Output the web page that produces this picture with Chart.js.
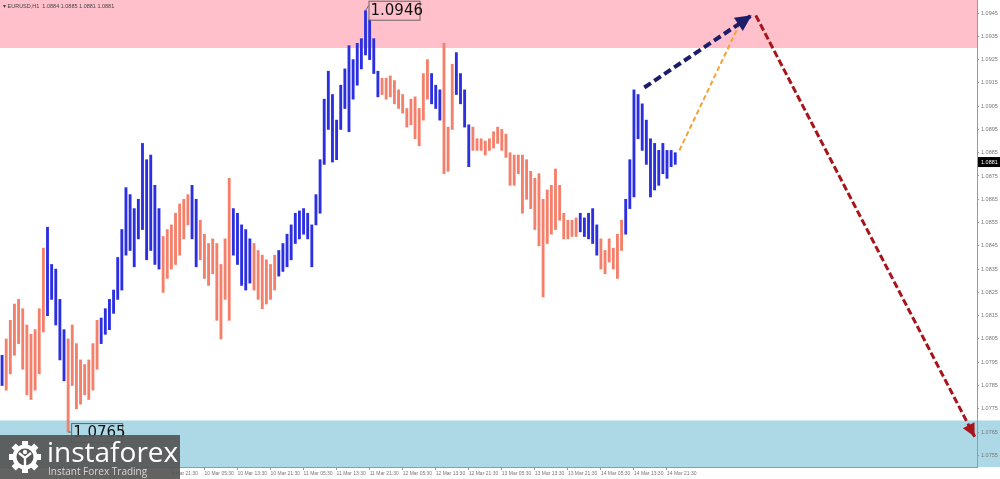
<!DOCTYPE html>
<html>
<head>
<meta charset="utf-8">
<script src="https://cdn.jsdelivr.net/npm/chart.js@4.4.1/dist/chart.umd.min.js"></script>
<style>
  html, body { margin: 0; padding: 0; background: #fff; }
</style>
</head>
<body>
<canvas id="chart" width="1000" height="479"></canvas>
<script>
// EURUSD H1 bars (one per hour)
const highs = [
  1.0798, 1.0805, 1.0813, 1.0820, 1.0822, 1.0818, 1.0811, 1.0807, 1.0809, 1.0818,
  1.0844, 1.0853, 1.0837, 1.0835, 1.0822, 1.0809, 1.0805, 1.0811, 1.0803, 1.0796,
  1.0794, 1.0796, 1.0803, 1.0813, 1.0814, 1.0818, 1.0822, 1.0826, 1.0840, 1.0852,
  1.0870, 1.0867, 1.0861, 1.0865, 1.0889, 1.0882, 1.0884, 1.0871, 1.0861, 1.0849,
  1.0852, 1.0854, 1.0859, 1.0863, 1.0865, 1.0867, 1.0871, 1.0865, 1.0856, 1.0850,
  1.0846, 1.0848, 1.0846, 1.0837, 1.0848, 1.0874, 1.0861, 1.0859, 1.0854, 1.0852,
  1.0848, 1.0846, 1.0843, 1.0841, 1.0839, 1.0837, 1.0841, 1.0843, 1.0846, 1.0850,
  1.0854, 1.0859, 1.0860, 1.0861, 1.0859, 1.0854, 1.0867, 1.0882, 1.0908, 1.0920,
  1.0910, 1.0899, 1.0914, 1.0921, 1.0931, 1.0925, 1.0932, 1.0934, 1.0946, 1.0942,
  1.0934, 1.0920, 1.0917, 1.0917, 1.0918, 1.0916, 1.0912, 1.0910, 1.0904, 1.0908,
  1.0909, 1.0904, 1.0919, 1.0925, 1.0919, 1.0914, 1.0912, 1.0932, 1.0896, 1.0923,
  1.0928, 1.0919, 1.0912, 1.0897, 1.0896, 1.0891, 1.0891, 1.0890, 1.0891, 1.0894,
  1.0896, 1.0895, 1.0893, 1.0885, 1.0884, 1.0884, 1.0884, 1.0882, 1.0877, 1.0874,
  1.0876, 1.0865, 1.0869, 1.0871, 1.0878, 1.0871, 1.0859, 1.0856, 1.0856, 1.0857,
  1.0859, 1.0857, 1.0859, 1.0861, 1.0854, 1.0848, 1.0843, 1.0848, 1.0844, 1.0850,
  1.0856, 1.0865, 1.0882, 1.0912, 1.0910, 1.0906, 1.0899, 1.0891, 1.0889, 1.0886,
  1.0889, 1.0886, 1.0886, 1.0885
];
const lows = [
  1.0785, 1.0783, 1.0790, 1.0798, 1.0803, 1.0792, 1.0781, 1.0779, 1.0783, 1.0790,
  1.0808, 1.0815, 1.0822, 1.0811, 1.0796, 1.0787, 1.0765, 1.0785, 1.0775, 1.0777,
  1.0781, 1.0779, 1.0783, 1.0792, 1.0803, 1.0807, 1.0809, 1.0816, 1.0822, 1.0826,
  1.0841, 1.0843, 1.0836, 1.0848, 1.0852, 1.0839, 1.0843, 1.0837, 1.0835, 1.0825,
  1.0831, 1.0835, 1.0837, 1.0841, 1.0848, 1.0854, 1.0848, 1.0836, 1.0839, 1.0831,
  1.0828, 1.0833, 1.0813, 1.0805, 1.0822, 1.0813, 1.0841, 1.0837, 1.0828, 1.0826,
  1.0829, 1.0826, 1.0822, 1.0818, 1.0820, 1.0822, 1.0826, 1.0832, 1.0834, 1.0836,
  1.0839, 1.0846, 1.0848, 1.0850, 1.0848, 1.0836, 1.0854, 1.0859, 1.0880, 1.0895,
  1.0881, 1.0882, 1.0895, 1.0904, 1.0894, 1.0908, 1.0914, 1.0921, 1.0927, 1.0925,
  1.0919, 1.0909, 1.0910, 1.0908, 1.0909, 1.0906, 1.0904, 1.0902, 1.0896, 1.0897,
  1.0891, 1.0888, 1.0899, 1.0908, 1.0906, 1.0904, 1.0899, 1.0876, 1.0877, 1.0895,
  1.0910, 1.0906, 1.0896, 1.0879, 1.0886, 1.0886, 1.0886, 1.0884, 1.0886, 1.0887,
  1.0889, 1.0886, 1.0883, 1.0871, 1.0871, 1.0876, 1.0859, 1.0865, 1.0861, 1.0852,
  1.0845, 1.0823, 1.0846, 1.0850, 1.0852, 1.0856, 1.0848, 1.0848, 1.0849, 1.0849,
  1.0851, 1.0849, 1.0848, 1.0846, 1.0841, 1.0835, 1.0833, 1.0838, 1.0835, 1.0831,
  1.0843, 1.0850, 1.0861, 1.0866, 1.0891, 1.0886, 1.0880, 1.0866, 1.0869, 1.0871,
  1.0876, 1.0874, 1.0879, 1.0880
];
// wave lengths in bars, alternating: up, down, up, down ...
const waveBars = [1, 10, 5, 8, 15, 7, 2, 8, 5, 6, 25, 12, 3, 3, 4, 26, 5, 6, 13];

const timeLabels = ['9 Mar 21:30', '10 Mar 05:30', '10 Mar 13:30', '10 Mar 21:30', '11 Mar 05:30',
  '11 Mar 13:30', '11 Mar 21:30', '12 Mar 05:30', '12 Mar 13:30', '12 Mar 21:30', '13 Mar 05:30',
  '13 Mar 13:30', '13 Mar 21:30', '14 Mar 05:30', '14 Mar 13:30', '14 Mar 21:30'];
const firstLabelBar = 41;
const labelStep = 8;
const priceTicks = [1.0755, 1.0765, 1.0775, 1.0785, 1.0795, 1.0805, 1.0815, 1.0825, 1.0835, 1.0845,
  1.0855, 1.0865, 1.0875, 1.0885, 1.0895, 1.0905, 1.0915, 1.0925, 1.0935, 1.0945];

const supplyZone = [1.0930, 1.0952];
const demandZone = [1.0750, 1.0770];
const lastPrice = 1.0881;
const extremes = [
  { bar: 88, price: 1.0946, text: '1.0946', up: true },
  { bar: 16, price: 1.0765, text: '1.0765', up: false }
];
// forecast paths (bar, price)
const pathMain = [{ x: 155.5, y: 1.0913 }, { x: 181.5, y: 1.0944 }];
const pathAlt = [{ x: 164, y: 1.0886 }, { x: 178.5, y: 1.0940 }];
const pathDown = [{ x: 182.5, y: 1.0944 }, { x: 235.5, y: 1.0763 }];

const title = 'EURUSD,H1  1.0884 1.0885 1.0881 1.0881';

// colour each bar by its wave
const barColors = [];
waveBars.forEach((n, w) => {
  for (let k = 0; k < n; k++) barColors.push(w % 2 === 0 ? '#2b2fe0' : '#f4806b');
});

const zonesPlugin = {
  id: 'zones',
  beforeDraw(chart) {
    const { ctx, chartArea: a, scales: { y } } = chart;
    ctx.save();
    let t = y.getPixelForValue(supplyZone[1]);
    let b = y.getPixelForValue(supplyZone[0]);
    ctx.fillStyle = '#ffc0cb';
    ctx.fillRect(a.left, Math.max(t, 0), a.right - a.left, b - Math.max(t, 0));
    t = y.getPixelForValue(demandZone[1]);
    b = y.getPixelForValue(demandZone[0]);
    ctx.fillStyle = '#add8e6';
    ctx.fillRect(a.left, t, chart.width - a.left, b - t);
    ctx.restore();
  }
};

const marksPlugin = {
  id: 'marks',
  afterDatasetsDraw(chart) {
    const { ctx, scales: { x, y } } = chart;
    ctx.save();
    // arrow heads
    chart.data.datasets.forEach((ds, i) => {
      if (!ds.head) return;
      const pts = chart.getDatasetMeta(i).data;
      const p1 = pts[pts.length - 2], p2 = pts[pts.length - 1];
      const ang = Math.atan2(p2.y - p1.y, p2.x - p1.x);
      ctx.save();
      ctx.translate(p2.x, p2.y);
      ctx.rotate(ang);
      ctx.beginPath();
      ctx.moveTo(0, 0);
      ctx.lineTo(-ds.head, -ds.head * 0.5);
      ctx.lineTo(-ds.head, ds.head * 0.5);
      ctx.closePath();
      ctx.fillStyle = ds.borderColor;
      ctx.fill();
      ctx.restore();
    });
    // high / low price tags
    ctx.font = '15px "DejaVu Sans"';
    ctx.textBaseline = 'middle';
    extremes.forEach(e => {
      const px = x.getPixelForValue(e.bar);
      const py = y.getPixelForValue(e.price);
      const bx = px + 3, by = e.up ? py - 10 : py - 9;
      ctx.strokeStyle = '#666';
      ctx.lineWidth = 1;
      ctx.beginPath();
      ctx.moveTo(px, py);
      ctx.lineTo(bx, e.up ? py - 5 : py);
      ctx.stroke();
      ctx.strokeRect(bx + 0.5, by + 0.5, 51, 19);
      ctx.fillStyle = '#111';
      ctx.fillText(e.text, bx + 2, by + 10.5);
    });
    ctx.restore();
  },
  afterDraw(chart) {
    const { ctx, chartArea: a, scales: { y } } = chart;
    ctx.save();
    // current price tag on the scale
    const py = y.getPixelForValue(lastPrice);
    ctx.fillStyle = '#000';
    ctx.fillRect(a.right + 1, py - 5, chart.width - a.right - 1, 10);
    ctx.fillStyle = '#fff';
    ctx.font = '5.5px "Liberation Sans"';
    ctx.textBaseline = 'middle';
    ctx.fillText(lastPrice.toFixed(4), a.right + 4, py);
    // symbol line
    ctx.fillStyle = '#444';
    ctx.font = '5.5px "Liberation Sans"';
    ctx.fillText('\u25BE ' + title, 3, 6);
    // logo
    ctx.fillStyle = 'rgba(85,85,85,0.92)';
    ctx.fillRect(0, 435, 180, 44);
    const cx = 25, cy = 457;
    ctx.fillStyle = '#fff';
    for (let k = 0; k < 8; k++) {
      ctx.save();
      ctx.translate(cx, cy);
      ctx.rotate(k * Math.PI / 4);
      ctx.fillRect(-3, -16, 6, 6);
      ctx.restore();
    }
    ctx.beginPath();
    ctx.arc(cx, cy, 12.5, 0, Math.PI * 2);
    ctx.fill();
    ctx.fillStyle = '#555';
    ctx.beginPath();
    ctx.arc(cx, cy, 8.5, 0, Math.PI * 2);
    ctx.fill();
    ctx.fillStyle = '#fff';
    ctx.beginPath();
    ctx.arc(cx, cy - 5, 2.2, 0, Math.PI * 2);
    ctx.fill();
    ctx.strokeStyle = '#fff';
    ctx.lineWidth = 2.4;
    ctx.beginPath();
    ctx.moveTo(cx - 6, cy - 4);
    ctx.lineTo(cx, cy + 1);
    ctx.lineTo(cx + 6, cy - 4);
    ctx.moveTo(cx, cy + 1);
    ctx.lineTo(cx, cy + 12);
    ctx.stroke();
    ctx.fillStyle = '#fff';
    ctx.font = '28px "Open Sans"';
    ctx.textBaseline = 'alphabetic';
    ctx.fillText('instaforex', 47, 462);
    ctx.fillStyle = '#d6d6d6';
    ctx.font = '10px "Open Sans"';
    ctx.fillText('Instant Forex Trading', 48, 475);
    ctx.restore();
  }
};

const ctx = document.getElementById('chart').getContext('2d');
new Chart(ctx, {
  type: 'bar',
  data: {
    datasets: [
      {
        type: 'bar',
        data: highs.map((h, i) => ({ x: i, y: [lows[i], h] })),
        backgroundColor: barColors,
        barThickness: 2.2,
        minBarLength: 2,
        order: 2
      },
      {
        type: 'line', data: pathMain, borderColor: '#1d1d6a', borderWidth: 4,
        borderDash: [8, 4], pointRadius: 0, head: 16, order: 1
      },
      {
        type: 'line', data: pathAlt, borderColor: '#f4a234', borderWidth: 2,
        borderDash: [5, 3], pointRadius: 0, order: 1
      },
      {
        type: 'line', data: pathDown, borderColor: '#a8141a', borderWidth: 3,
        borderDash: [7, 3], pointRadius: 0, head: 13, order: 1
      }
    ]
  },
  options: {
    responsive: false,
    animation: false,
    devicePixelRatio: 1,
    layout: { padding: 0 },
    plugins: { legend: { display: false }, tooltip: { enabled: false } },
    scales: {
      x: {
        type: 'linear',
        offset: false,
        min: -0.5,
        max: 236.06,
        afterBuildTicks: s => { s.ticks = timeLabels.map((t, k) => ({ value: firstLabelBar + k * labelStep })); },
        ticks: {
          callback: (v, k) => timeLabels[k],
          align: 'start', autoSkip: false, maxRotation: 0, minRotation: 0,
          font: { family: 'Liberation Sans', size: 5 }, color: '#777', padding: 1
        },
        grid: { drawOnChartArea: false, tickLength: 3, color: '#999', offset: false },
        border: { color: '#999' },
        afterFit: s => { s.height = 12; s.paddingLeft = 0; s.paddingRight = 0; }
      },
      y: {
        position: 'right',
        min: 1.0750,
        max: 1.09506,
        afterBuildTicks: s => { s.ticks = priceTicks.map(v => ({ value: v })); },
        ticks: {
          callback: v => v.toFixed(4),
          font: { family: 'Liberation Sans', size: 5.5 }, color: '#777', padding: 2
        },
        grid: { drawOnChartArea: false, tickLength: 2, color: '#999' },
        border: { color: '#999' },
        afterFit: s => { s.width = 23; s.paddingTop = 0; s.paddingBottom = 0; }
      }
    }
  },
  plugins: [zonesPlugin, marksPlugin]
});
</script>
</body>
</html>
